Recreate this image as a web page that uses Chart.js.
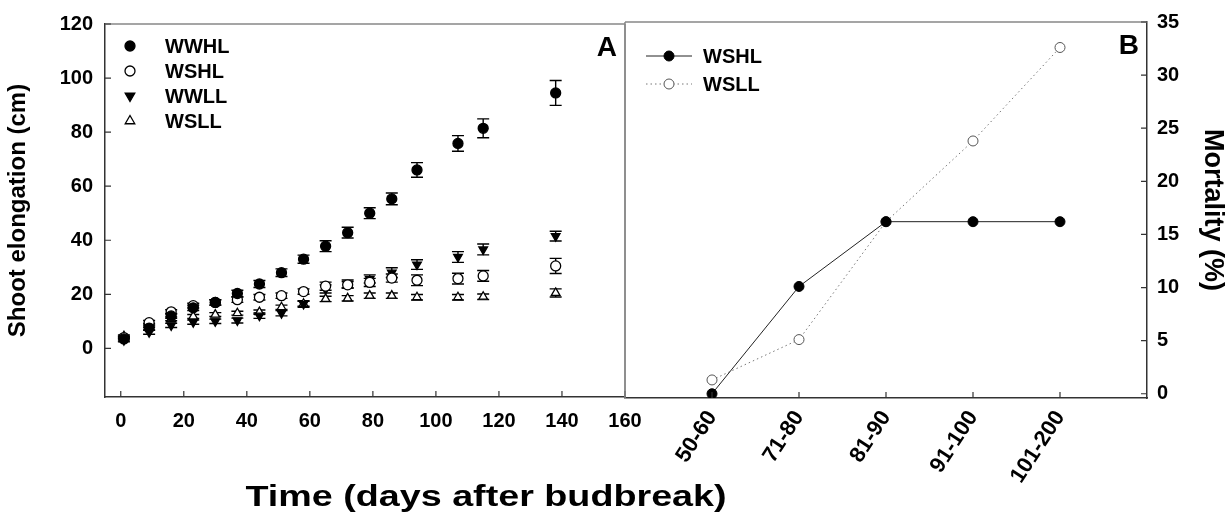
<!DOCTYPE html>
<html>
<head>
<meta charset="utf-8">
<script src="https://cdn.jsdelivr.net/npm/chart.js@4.4.0/dist/chart.umd.min.js"></script>
<style>
  body { margin: 0; background: #fff; width: 1229px; height: 520px; overflow: hidden; position: relative;
         font-family: "Liberation Sans", Arial, sans-serif; }
  #wrapA { position: absolute; left: 0; top: 0; width: 660px; height: 520px; }
  #wrapB { position: absolute; left: 615px; top: 0; width: 614px; height: 520px; }
  #xtitle { position: absolute; left: 486px; top: 480px; transform: translateX(-50%) scaleX(1.3);
            font-weight: bold; font-size: 29px; white-space: nowrap; color: #000; }
</style>
</head>
<body>
<div id="wrapA"><canvas id="chartA"></canvas></div>
<div id="wrapB"><canvas id="chartB"></canvas></div>
<div id="xtitle">Time (days after budbreak)</div>
<script>
// panel A: shoot elongation (cm), mean +- SE
const days = [1, 9, 16, 23, 30, 37, 44, 51, 58, 65, 72, 79, 86, 94, 107, 115, 138];
const wwhl = [3.5, 7.5, 12, 15, 17, 20.3, 23.8, 28, 33, 37.8, 42.8, 50, 55.3, 66, 75.8, 81.4, 94.5];
const wwhlErr = [0.8, 0.8, 0.9, 1, 1, 1.2, 1.3, 1.4, 1.5, 2, 2, 2, 2.2, 2.7, 2.9, 3.5, 4.6];
const wshl = [4, 9.5, 13.5, 15.8, 17, 18, 18.9, 19.5, 21, 23, 23.5, 24.4, 26, 25.2, 25.8, 26.8, 30.5];
const wshlErr = [0.6, 0.8, 0.8, 0.9, 1, 1, 1, 1, 1, 1.5, 1.2, 1.5, 1.5, 2, 2, 2, 2.8];
const wwll = [3, 6, 8.5, 9.7, 10, 10.3, 12.1, 13, 16.4, 22, 23.8, 25.7, 28, 31, 33.8, 36.6, 41.5];
const wwllErr = [0.6, 0.8, 0.8, 0.8, 0.8, 0.9, 1, 1, 1.2, 1.5, 1.5, 1.5, 1.8, 1.8, 2, 2, 1.8];
const wsll = [4.5, 8.5, 10.9, 11.8, 12.5, 13, 13.4, 15.2, 16.5, 18.3, 18.5, 19.5, 19.5, 18.9, 18.9, 19.1, 20.5];
const wsllErr = [0.5, 0.7, 0.7, 0.7, 0.7, 0.7, 0.8, 0.8, 0.9, 1, 1, 1, 1, 1, 1, 1, 1.5];
const xTicksA = [0, 20, 40, 60, 80, 100, 120, 140, 160];
const yTicksA = [0, 20, 40, 60, 80, 100, 120];

// panel B: mortality (%) by shoot length class
const lengthClasses = ['50-60', '71-80', '81-90', '91-100', '101-200'];
const wshlMort = [0, 10.1, 16.2, 16.2, 16.2];
const wsllMort = [1.3, 5.1, 16.2, 23.8, 32.6];
const yTicksB = [0, 5, 10, 15, 20, 25, 30, 35];

const FONT = '"Liberation Sans", Arial, sans-serif';
Chart.defaults.font.family = FONT;
Chart.defaults.color = '#000';

function pts(xs, ys) { return xs.map((x, i) => ({ x: x, y: ys[i] })); }
function setTicks(list) { return scale => { scale.ticks = list.map(v => ({ value: v })); }; }

// vertical error bars with caps, drawn under the markers
const errorBars = {
  id: 'errorBars',
  beforeDatasetsDraw(chart) {
    const ctx = chart.ctx, xs = chart.scales.x, ys = chart.scales.y;
    ctx.save();
    ctx.strokeStyle = '#000';
    ctx.lineWidth = 1.4;
    chart.data.datasets.forEach(ds => {
      if (!ds.errors) return;
      ds.data.forEach((p, i) => {
        const e = ds.errors[i];
        const px = xs.getPixelForValue(p.x);
        const top = ys.getPixelForValue(p.y + e), bot = ys.getPixelForValue(p.y - e);
        ctx.beginPath();
        ctx.moveTo(px, top); ctx.lineTo(px, bot);
        ctx.moveTo(px - 6, top); ctx.lineTo(px + 6, top);
        ctx.moveTo(px - 6, bot); ctx.lineTo(px + 6, bot);
        ctx.stroke();
      });
    });
    ctx.restore();
  }
};

// tick marks pointing into the plot, plus the light frame lines
const frameTicks = {
  id: 'frameTicks',
  afterDraw(chart, args, opts) {
    const ctx = chart.ctx, a = chart.chartArea;
    ctx.save();
    ctx.strokeStyle = '#888';
    ctx.lineWidth = 1.5;
    ctx.beginPath();
    (opts.frame || []).forEach(side => {
      if (side === 'top') { ctx.moveTo(a.left, a.top); ctx.lineTo(a.right, a.top); }
      if (side === 'right') { ctx.moveTo(a.right, a.top); ctx.lineTo(a.right, a.bottom); }
      if (side === 'left') { ctx.moveTo(a.left, a.top); ctx.lineTo(a.left, a.bottom); }
    });
    ctx.stroke();
    ctx.strokeStyle = '#333';
    ctx.lineWidth = 1.2;
    ctx.beginPath();
    Object.values(chart.scales).forEach(s => {
      s.ticks.forEach(t => {
        const p = s.getPixelForValue(t.value);
        if (s.position === 'bottom') { ctx.moveTo(p, a.bottom); ctx.lineTo(p, a.bottom - 6); }
        if (s.position === 'left') { ctx.moveTo(a.left, p); ctx.lineTo(a.left + 6, p); }
        if (s.position === 'right') { ctx.moveTo(a.right, p); ctx.lineTo(a.right - 6, p); }
      });
    });
    ctx.stroke();
    // panel letter
    ctx.fillStyle = '#000';
    ctx.font = 'bold 28px ' + FONT;
    ctx.textAlign = 'right';
    ctx.textBaseline = 'top';
    ctx.fillText(opts.letter, a.right - 8, a.top + 10);
    ctx.restore();
  }
};

// legend drawn inside the plot area
const innerLegend = {
  id: 'innerLegend',
  afterDraw(chart, args, opts) {
    const ctx = chart.ctx, a = chart.chartArea;
    ctx.save();
    ctx.font = 'bold 20px ' + FONT;
    ctx.textBaseline = 'middle';
    ctx.textAlign = 'left';
    chart.data.datasets.forEach((ds, i) => {
      const y = a.top + opts.top + i * opts.step;
      const mx = a.left + opts.markerX;
      if (opts.lines) {
        ctx.save();
        ctx.strokeStyle = ds.borderColor;
        ctx.lineWidth = 1;
        ctx.setLineDash(ds.borderDash || []);
        ctx.beginPath();
        ctx.moveTo(mx - 23, y); ctx.lineTo(mx + 23, y);
        ctx.stroke();
        ctx.restore();
      }
      ctx.fillStyle = ds.pointBackgroundColor;
      ctx.strokeStyle = ds.pointBorderColor;
      ctx.lineWidth = ds.pointBorderWidth;
      ctx.beginPath();
      if (ds.pointStyle === 'circle') {
        ctx.arc(mx, y, ds.pointRadius, 0, Math.PI * 2);
      } else {
        const r = ds.pointRadius * 1.1, dir = ds.rotation ? -1 : 1;
        ctx.moveTo(mx, y - dir * r);
        ctx.lineTo(mx + r * 0.87, y + dir * r * 0.5);
        ctx.lineTo(mx - r * 0.87, y + dir * r * 0.5);
        ctx.closePath();
      }
      ctx.fill(); ctx.stroke();
      ctx.fillStyle = '#000';
      ctx.fillText(ds.label, a.left + opts.textX, y + 1);
    });
    ctx.restore();
  }
};

function markerSet(fill, shape, rot) {
  return {
    showLine: false, pointStyle: shape, rotation: rot || 0, pointRadius: 5,
    pointHoverRadius: 5, pointBackgroundColor: fill, pointBorderColor: '#000', pointBorderWidth: 1.3,
    borderColor: '#000', backgroundColor: fill
  };
}

new Chart(document.getElementById('chartA'), {
  type: 'scatter',
  data: {
    datasets: [
      Object.assign({ label: 'WWHL', data: pts(days, wwhl), errors: wwhlErr }, markerSet('#000', 'circle')),
      Object.assign({ label: 'WSHL', data: pts(days, wshl), errors: wshlErr }, markerSet('#fff', 'circle')),
      Object.assign({ label: 'WWLL', data: pts(days, wwll), errors: wwllErr }, markerSet('#000', 'triangle', 180)),
      Object.assign({ label: 'WSLL', data: pts(days, wsll), errors: wsllErr }, markerSet('#fff', 'triangle'))
    ]
  },
  options: {
    responsive: true,
    maintainAspectRatio: false,
    animation: false,
    layout: { padding: { left: 0, right: 35, top: 21, bottom: 0 } },
    scales: {
      x: {
        type: 'linear', min: -5, max: 160,
        afterBuildTicks: setTicks(xTicksA),
        afterFit: s => { s.height = 123; },
        grid: { display: false, drawTicks: false },
        border: { color: '#333', width: 1.5 },
        ticks: { font: { size: 20, weight: 'bold' }, padding: 12, maxRotation: 0 }
      },
      y: {
        min: -18, max: 120,
        afterBuildTicks: setTicks(yTicksA),
        afterFit: s => { s.width = 105; },
        grid: { display: false, drawTicks: false },
        border: { color: '#333', width: 1.5 },
        ticks: { font: { size: 20, weight: 'bold' }, padding: 12 },
        title: { display: true, text: 'Shoot elongation (cm)', font: { size: 24, weight: 'bold' }, padding: { top: 4, bottom: 0 } }
      }
    },
    plugins: {
      legend: { display: false },
      tooltip: { enabled: false },
      frameTicks: { frame: ['top', 'right'], letter: 'A' },
      innerLegend: { top: 22, step: 25, markerX: 25, textX: 60 }
    }
  },
  plugins: [errorBars, frameTicks, innerLegend]
});

new Chart(document.getElementById('chartB'), {
  type: 'line',
  data: {
    datasets: [
      {
        label: 'WSHL', data: pts([0, 1, 2, 3, 4], wshlMort),
        borderColor: '#222', borderWidth: 1, pointStyle: 'circle', pointRadius: 5,
        pointBackgroundColor: '#000', pointBorderColor: '#000', pointBorderWidth: 1
      },
      {
        label: 'WSLL', data: pts([0, 1, 2, 3, 4], wsllMort),
        borderColor: '#777', borderWidth: 1, borderDash: [1.5, 3], pointStyle: 'circle', pointRadius: 5,
        pointBackgroundColor: '#fff', pointBorderColor: '#555', pointBorderWidth: 1
      }
    ]
  },
  options: {
    responsive: true,
    maintainAspectRatio: false,
    animation: false,
    layout: { padding: { left: 10, right: 0, top: 21, bottom: 0 } },
    scales: {
      x: {
        type: 'linear', min: -1, max: 5,
        afterBuildTicks: setTicks([0, 1, 2, 3, 4]),
        afterFit: s => { s.height = 122; },
        grid: { display: false, drawTicks: false },
        border: { color: '#333', width: 1.5 },
        ticks: {
          font: { size: 22, weight: 'bold' }, padding: 8, minRotation: 57, maxRotation: 57,
          callback: v => lengthClasses[v]
        }
      },
      y: {
        position: 'right', min: -0.4, max: 35,
        afterBuildTicks: setTicks(yTicksB),
        afterFit: s => { s.width = 82; },
        grid: { display: false, drawTicks: false },
        border: { color: '#333', width: 1.5 },
        ticks: { font: { size: 20, weight: 'bold' }, padding: 10 },
        title: { display: true, text: 'Mortality (%)', font: { size: 27, weight: 'bold' }, padding: { top: 0, bottom: 4 } }
      }
    },
    plugins: {
      legend: { display: false },
      tooltip: { enabled: false },
      frameTicks: { frame: ['top', 'left'], letter: 'B' },
      innerLegend: { top: 34, step: 28, markerX: 44, textX: 78, lines: true }
    }
  },
  plugins: [frameTicks, innerLegend]
});
</script>
</body>
</html>
